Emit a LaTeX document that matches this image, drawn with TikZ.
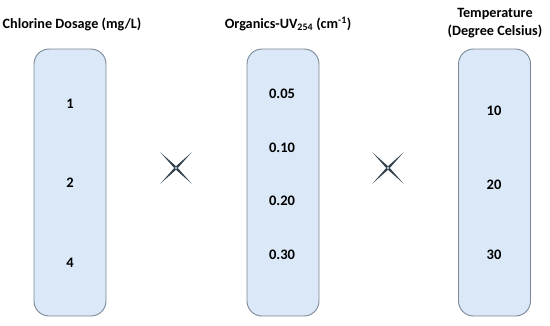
\documentclass[tikz,border=0pt]{standalone}
\usepackage{fontspec}
\setmainfont{Carlito}
\usepackage{xcolor}
\usetikzlibrary{positioning}
\definecolor{LevelFill}{HTML}{DAE8F7}
\definecolor{LevelEdge}{HTML}{7A8794}
\definecolor{CrossDark}{HTML}{34424E}
\definecolor{CrossLight}{HTML}{A8C3D3}

\begin{document}
\begin{tikzpicture}[
  x=1pt, y=-1pt,
  level/.style={draw=LevelEdge,line width=0.9pt,fill=LevelFill,rounded corners=15pt,
    minimum width=72pt,minimum height=267pt,inner sep=0pt},
  val/.style={font=\fontsize{14.5}{16}\selectfont\bfseries,inner sep=1pt},
  head/.style={font=\fontsize{14.2}{18}\selectfont\bfseries,align=center,inner sep=1pt},
  crossmark/.pic={
    \fill[CrossDark] (45:22) -- (0:1.8) -- (-45:22) -- (-90:1.8) -- (-135:22)
      -- (180:1.8) -- (135:22) -- (90:1.8) -- cycle;
    \fill[CrossLight] (0,0) circle (1.4);
  }
]
  \useasboundingbox (0,0) rectangle (550,325);

  % the three factors
  \node[level] (chlorine) at (70,182.5) {};
  \node[level] (organics) at (283,182.5) {};
  \node[level] (temp) at (494.5,182.5) {};

  \node[head] (chlorinehead) at (72,24) {Chlorine Dosage (mg/L)};
  \node[head] (organicshead) at (288,24) {Organics-UV\textsubscript{254} (cm\textsuperscript{-1})};
  \node[head] (temphead) at (495,23) {Temperature\\(Degree Celsius)};

  % levels
  \node[val] (c1) at (70,104) {1};
  \node[val] (c2) at (70,183) {2};
  \node[val] (c4) at (70,263) {4};

  \node[val] (o05) at (282,94) {0.05};
  \node[val] (o10) at (282,148) {0.10};
  \node[val] (o20) at (282,201) {0.20};
  \node[val] (o30) at (282,255) {0.30};

  \node[val] (t10) at (494,111) {10};
  \node[val] (t20) at (494,185) {20};
  \node[val] (t30) at (494,255) {30};

  % crossing signs
  \coordinate (times1) at (176,168);
  \coordinate (times2) at (388,168);
  \pic at (times1) {crossmark};
  \pic at (times2) {crossmark};
\end{tikzpicture}
\end{document}
